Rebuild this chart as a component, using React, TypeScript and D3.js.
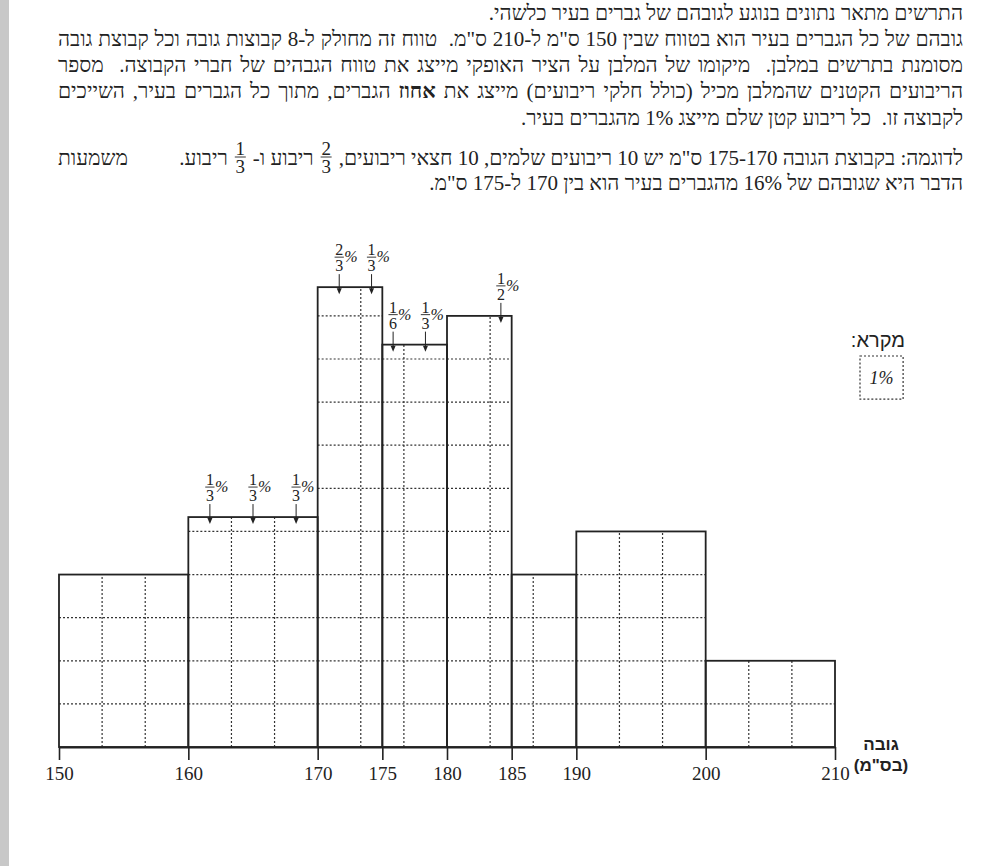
import { useEffect, useLayoutEffect, useRef } from 'react';
import * as d3 from 'd3';

// height groups (cm) and percent of men in each group
const binEdges = [150, 160, 170, 175, 180, 185, 190, 200, 210];
const percents = [12, 16, 16, 14, 15, 6, 15, 6];
const squareWidthCm = 10 / 3; // one small square = 1%

// partial squares marked with arrows: bin index, column inside the bin, fraction
const partials = [
  { bin: 1, col: 0, num: 1, den: 3 },
  { bin: 1, col: 1, num: 1, den: 3 },
  { bin: 1, col: 2, num: 1, den: 3 },
  { bin: 2, col: 0, num: 2, den: 3 },
  { bin: 2, col: 1, num: 1, den: 3 },
  { bin: 3, col: 0, num: 1, den: 6 },
  { bin: 3, col: 1, num: 1, den: 3 },
  { bin: 4, col: 1, num: 1, den: 2 },
];

const line1 = 'התרשים מתאר נתונים בנוגע לגובהם של גברים בעיר כלשהי.';
const line2 = 'גובהם של כל הגברים בעיר הוא בטווח שבין 150 ס"מ ל-210 ס"מ.  טווח זה מחולק ל-8 קבוצות גובה וכל קבוצת גובה';
const line3 = 'מסומנת בתרשים במלבן.  מיקומו של המלבן על הציר האופקי מייצג את טווח הגבהים של חברי הקבוצה.  מספר';
const line4a = 'הריבועים הקטנים שהמלבן מכיל (כולל חלקי ריבועים) מייצג את ';
const line4b = 'אחוז';
const line4c = ' הגברים, מתוך כל הגברים בעיר, השייכים';
const line5 = 'לקבוצה זו.  כל ריבוע קטן שלם מייצג 1% מהגברים בעיר.';
const line6a = 'לדוגמה: בקבוצת הגובה 175-170 ס"מ יש 10 ריבועים שלמים, 10 חצאי ריבועים,';
const line6b = 'ריבוע ו-';
const line6c = 'ריבוע.';
const line6d = 'משמעות';
const line6fracs = [[2, 3], [1, 3]];
const line7 = 'הדבר היא שגובהם של 16% מהגברים בעיר הוא בין 170 ל-175 ס"מ.';

const legendTitle = 'מקרא:';
const legendText = '1%';
const axisTitle = ['גובה', '(בס"מ)'];

const SERIF = '"Liberation Serif", "Times New Roman", "DejaVu Serif", serif';
const SANS = '"Liberation Sans", Arial, sans-serif';
const INK = '#222';
const TEXT_R = 963;
const TEXT_L = 58;
const BODY_SIZE = 21;

function Frac({ cx, barY, num, den, size }: { cx: number; barY: number; num: number; den: number; size: number }) {
  const w = size * 0.58;
  return (
    <g fontFamily={SERIF} fontSize={size} fill={INK} textAnchor="middle">
      <text x={cx} y={barY - 2}>{num}</text>
      <line x1={cx - w / 2} x2={cx + w / 2} y1={barY} y2={barY} stroke={INK} strokeWidth={0.9} />
      <text x={cx} y={barY + size * 0.68 + 3}>{den}</text>
    </g>
  );
}

export default function App() {
  const svgRef = useRef<SVGSVGElement>(null);
  const axisRef = useRef<SVGGElement>(null);
  const seg6 = useRef<(SVGTextElement | null)[]>([]);
  const frac6 = useRef<(SVGGElement | null)[]>([]);

  const x = d3.scaleLinear().domain([150, 210]).range([59, 835]);
  const unit = x(150 + squareWidthCm) - x(150);
  const y = d3.scaleLinear().domain([0, 1]).range([747, 747 - unit]);

  const gridXs = d3.range(0, 19).map((k) => 150 + k * squareWidthCm);
  const bins = percents.map((p, i) => {
    const x0 = binEdges[i];
    const x1 = binEdges[i + 1];
    const h = p / ((x1 - x0) / squareWidthCm);
    const inner = gridXs.filter((g) => g > x0 + 1e-6 && g < x1 - 1e-6);
    return { x0, x1, h, inner, cols: [x0, ...inner, x1] };
  });

  useEffect(() => {
    if (!axisRef.current) return;
    const g = d3.select(axisRef.current);
    g.selectAll('*').remove();
    g.call(
      d3
        .axisBottom(x)
        .tickValues(binEdges)
        .tickSize(13)
        .tickSizeOuter(0)
        .tickPadding(7)
        .tickFormat(d3.format('d') as any)
    );
    g.select('.domain').attr('stroke', INK).attr('stroke-width', 1.8);
    g.selectAll('.tick line').attr('stroke', INK).attr('stroke-width', 1.6);
    g.selectAll('.tick text')
      .attr('fill', INK)
      .style('font-family', SERIF)
      .style('font-size', '19px');
  }, []);

  useLayoutEffect(() => {
    const svg = svgRef.current;
    if (!svg) return;
    // justify full lines with word spacing
    svg.querySelectorAll<SVGTextElement>('text[data-justify]').forEach((el) => {
      el.style.wordSpacing = '0px';
      const natural = el.getComputedTextLength();
      const spaces = (el.textContent || '').split(' ').length - 1;
      const target = TEXT_R - TEXT_L;
      if (spaces > 0) el.style.wordSpacing = `${(target - natural) / spaces}px`;
    });
    // line with inline fractions: text, frac, text, frac, text ... last word flush left
    const segs = seg6.current;
    const fracs = frac6.current;
    if (segs.some((s) => !s) || fracs.some((f) => !f)) return;
    const fracW = 11;
    const gap = 7;
    let pos = TEXT_R;
    segs.slice(0, 3).forEach((s, i) => {
      s!.setAttribute('x', String(pos));
      pos -= s!.getComputedTextLength();
      if (i < fracs.length) {
        pos -= gap;
        fracs[i]!.setAttribute('transform', `translate(${pos - fracW / 2},0)`);
        pos -= fracW + gap;
      }
    });
    const last = segs[3]!;
    last.setAttribute('x', String(TEXT_L + last.getComputedTextLength()));
  });

  const textProps = {
    fontFamily: SERIF,
    fontSize: BODY_SIZE,
    fill: INK,
    direction: 'rtl' as const,
    textAnchor: 'start' as const,
    style: { whiteSpace: 'pre' as const },
  };

  return (
    <svg
      ref={svgRef}
      width={986}
      height={866}
      style={{ position: 'absolute', left: 0, top: 0, background: '#fff' }}
    >
      <rect x={0} y={0} width={9} height={866} fill="#c8c8c8" />

      {/* intro text */}
      <text {...textProps} x={TEXT_R} y={20}>{line1}</text>
      <text {...textProps} x={TEXT_R} y={46} data-justify="1">{line2}</text>
      <text {...textProps} x={TEXT_R} y={72} data-justify="1">{line3}</text>
      <text {...textProps} x={TEXT_R} y={98} data-justify="1">
        {line4a}
        <tspan fontWeight="bold">{line4b}</tspan>
        {line4c}
      </text>
      <text {...textProps} x={TEXT_R} y={125}>{line5}</text>
      {[line6a, line6b, line6c, line6d].map((t, i) => (
        <text key={i} {...textProps} ref={(el) => { seg6.current[i] = el; }} x={TEXT_R} y={165}>{t}</text>
      ))}
      {line6fracs.map(([n, d], i) => (
        <g key={i} ref={(el) => { frac6.current[i] = el; }}>
          <Frac cx={0} barY={157} num={n} den={d} size={19} />
        </g>
      ))}
      <text {...textProps} x={TEXT_R} y={190}>{line7}</text>

      {/* dotted grid of small squares inside each bar */}
      <g stroke="#333" strokeWidth={1.2} strokeDasharray="2,2" fill="none">
        {bins.map((b, i) => (
          <g key={i}>
            {b.inner.map((g) => (
              <line key={g} x1={x(g)} x2={x(g)} y1={y(0)} y2={y(b.h)} />
            ))}
            {d3.range(1, Math.ceil(b.h - 1e-6)).map((r) => (
              <line key={r} x1={x(b.x0)} x2={x(b.x1)} y1={y(r)} y2={y(r)} />
            ))}
          </g>
        ))}
      </g>

      {/* bars */}
      <g stroke={INK} strokeWidth={1.8} fill="none">
        {bins.map((b, i) => (
          <rect key={i} x={x(b.x0)} y={y(b.h)} width={x(b.x1) - x(b.x0)} height={y(0) - y(b.h)} />
        ))}
      </g>

      {/* partial square markers */}
      {partials.map((p, i) => {
        const b = bins[p.bin];
        const cx = x((b.cols[p.col] + b.cols[p.col + 1]) / 2);
        const top = y(b.h);
        return (
          <g key={i}>
            <Frac cx={cx} barY={top - 30} num={p.num} den={p.den} size={16} />
            <text x={cx + 5} y={top - 25} fontFamily={SERIF} fontStyle="italic" fontSize={16} fill={INK}>%</text>
            <line x1={cx} x2={cx} y1={top - 13} y2={top + 2} stroke={INK} strokeWidth={1} />
            <path d={`M${cx - 2.5},${top + 1}L${cx + 2.5},${top + 1}L${cx},${top + 7}Z`} fill={INK} />
          </g>
        );
      })}

      {/* x axis */}
      <g ref={axisRef} transform={`translate(0,${y(0)})`} />
      <g fontFamily={SANS} fontWeight="bold" fontSize={17} fill={INK} direction="rtl">
        <text x={881} y={750} textAnchor="middle">{axisTitle[0]}</text>
        <text x={881} y={771} textAnchor="middle">{axisTitle[1]}</text>
      </g>

      {/* legend */}
      <text x={905} y={347} fontFamily={SANS} fontSize={20} fill={INK} direction="rtl" textAnchor="start">
        {legendTitle}
      </text>
      <rect x={860} y={356} width={unit} height={unit} fill="none" stroke="#333" strokeWidth={1.2} strokeDasharray="2,2" />
      <text x={860 + unit / 2} y={384} fontFamily={SERIF} fontStyle="italic" fontSize={18} fill={INK} textAnchor="middle">
        {legendText}
      </text>
    </svg>
  );
}
